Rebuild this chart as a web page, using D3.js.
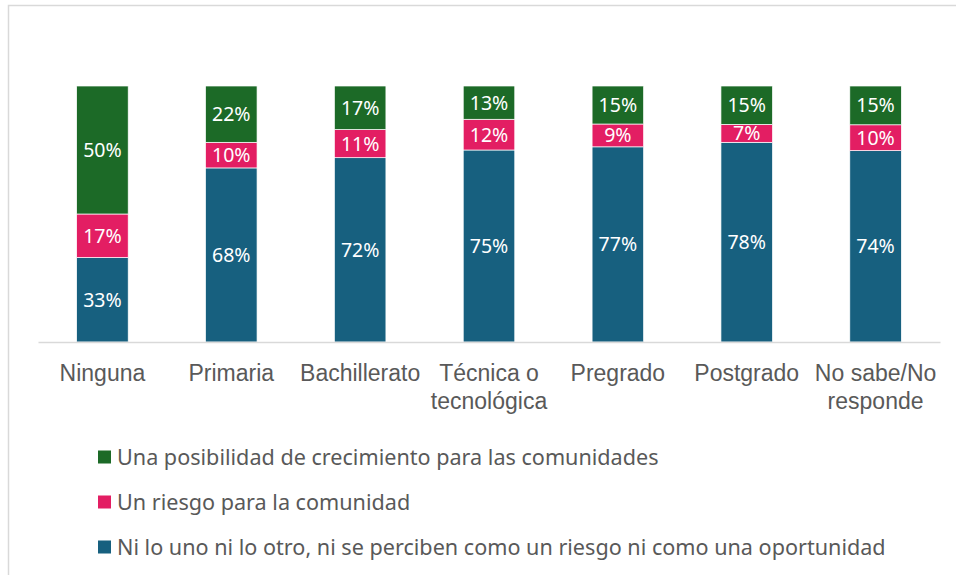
<!DOCTYPE html>
<meta charset="utf-8">
<style>
body { margin: 0; background: #fff; }
svg { display: block; font-family: "Noto Sans", "Liberation Sans", Arial, sans-serif; }
.legend text { fill: #595959; font-size: 21.6px; }
.lbl { fill: #fff; font-size: 19.5px; }
</style>
<body>
<script src="https://d3js.org/d3.v7.min.js"></script>
<script>

let categories = ["Ninguna", "Primaria", "Bachillerato", "Técnica o\ntecnológica", "Pregrado", "Postgrado", "No sabe/No\nresponde"];
let ni = [33, 68, 72, 75, 77, 78, 74];
let riesgo = [17, 10, 11, 12, 9, 7, 10];
let posib = [50, 22, 17, 13, 15, 15, 15];

let seriesNames = [
	"Ni lo uno ni lo otro, ni se perciben como un riesgo ni como una oportunidad",
	"Un riesgo para la comunidad",
	"Una posibilidad de crecimiento para las comunidades"
];
let keys = ["ni", "riesgo", "posib"];
let colors = ["#17607f", "#e31e63", "#1c6a27"];

let width = 956, height = 575;

let svg = d3.select("body").append("svg")
	.attr("width", width)
	.attr("height", height);

// frame
svg.append("rect")
	.attr("x", 8.5).attr("y", 5.5)
	.attr("width", 1000).attr("height", 1000)
	.attr("fill", "none")
	.attr("stroke", "#d9d9d9")
	.attr("stroke-width", 1.5);

let rows = categories.map(function(c, i) {
	return { cat: c, ni: ni[i], riesgo: riesgo[i], posib: posib[i] };
});

let stack = d3.stack().keys(keys).offset(d3.stackOffsetExpand);
let layers = stack(rows);

let x = d3.scaleBand()
	.domain(categories)
	.range([38, 940])
	.paddingInner(0.6)
	.paddingOuter(0.3);

let y = d3.scaleLinear().domain([0, 1]).range([342, 86]);

let g = svg.append("g");

layers.forEach(function(layer, li) {
	let lg = g.append("g").attr("fill", colors[li]);
	lg.selectAll("rect")
		.data(layer)
		.enter().append("rect")
		.attr("x", d => x(d.data.cat))
		.attr("width", x.bandwidth())
		.attr("y", d => y(d[1]))
		.attr("height", d => y(d[0]) - y(d[1]))
		.attr("stroke", "#fff")
		.attr("stroke-width", 0.7);

	lg.selectAll("text")
		.data(layer)
		.enter().append("text")
		.attr("class", "lbl")
		.attr("x", d => x(d.data.cat) + x.bandwidth() / 2)
		.attr("y", d => (y(d[0]) + y(d[1])) / 2)
		.attr("dy", "0.36em")
		.attr("text-anchor", "middle")
		.text(d => d.data[layer.key] + "%");
});

// axis
let axis = svg.append("g")
	.attr("transform", "translate(0,342)")
	.call(d3.axisBottom(x).tickSize(0).tickFormat(""));
axis.select(".domain").attr("stroke", "#d9d9d9").attr("stroke-width", 1.5);

axis.selectAll(".tick").each(function(d) {
	let t = d3.select(this).append("text")
		.attr("text-anchor", "middle")
		.attr("fill", "#595959")
		.style("font-size", "23px")
		.attr("y", 39);
	d.split("\n").forEach(function(line, i) {
		t.append("tspan").attr("x", 0).attr("dy", i ? 28 : 0).text(line);
	});
});

// legend (top = last series)
let legend = svg.append("g").attr("class", "legend");
let order = [2, 1, 0];
let ly = [457, 502, 547];
order.forEach(function(si, i) {
	let row = legend.append("g").attr("transform", "translate(98," + ly[i] + ")");
	row.append("rect")
		.attr("x", 0).attr("y", -6.5)
		.attr("width", 13).attr("height", 13)
		.attr("fill", colors[si]);
	row.append("text")
		.attr("x", 19)
		.attr("dy", "0.35em")
		.text(seriesNames[si]);
});

</script>
</body>
